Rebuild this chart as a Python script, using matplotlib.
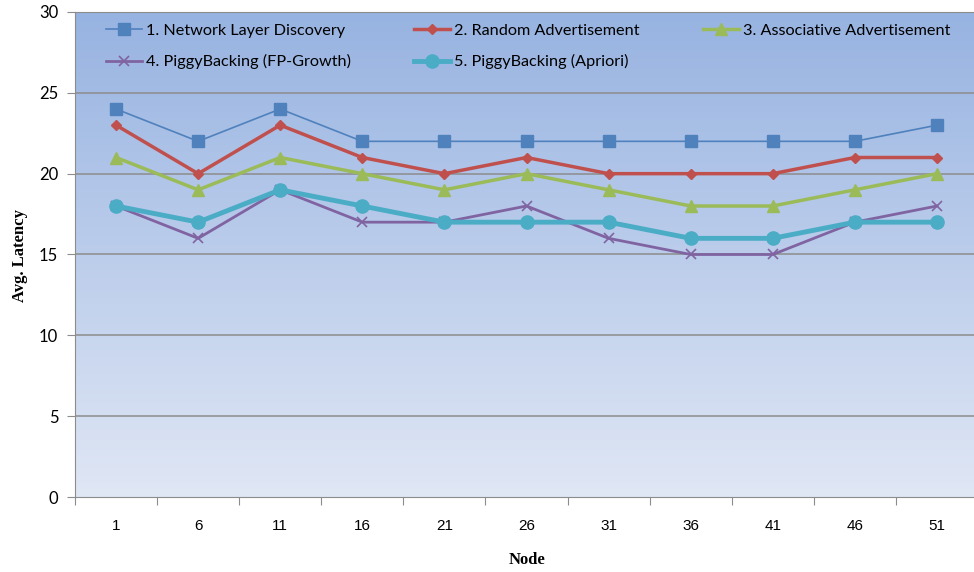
import numpy as np
import matplotlib
matplotlib.use("Agg")
import matplotlib.pyplot as plt
from matplotlib.colors import LinearSegmentedColormap

nodes = ["1", "6", "11", "16", "21", "26", "31", "36", "41", "46", "51"]
s1_network = [24, 22, 24, 22, 22, 22, 22, 22, 22, 22, 23]
s2_random = [23, 20, 23, 21, 20, 21, 20, 20, 20, 21, 21]
s3_assoc = [21, 19, 21, 20, 19, 20, 19, 18, 18, 19, 20]
s4_fpgrowth = [18, 16, 19, 17, 17, 18, 16, 15, 15, 17, 18]
s5_apriori = [18, 17, 19, 18, 17, 17, 17, 16, 16, 17, 17]
labels = ["1. Network Layer Discovery", "2. Random Advertisement",
          "3. Associative Advertisement", "4. PiggyBacking (FP-Growth)",
          "5. PiggyBacking (Apriori)"]

fig = plt.figure(figsize=(9.74, 5.72), dpi=100)
ax = fig.add_axes([75/974, 75/572, (978-75)/974, (497-12)/572])

x = np.arange(len(nodes))

# gradient background
cmap = LinearSegmentedColormap.from_list("bg", ["#e0e7f5", "#97b3e1"])
grad = np.linspace(0, 1, 256).reshape(-1, 1)
ax.imshow(grad, extent=[-0.5, 10.5, 0, 30], origin="lower", aspect="auto",
          cmap=cmap, zorder=0, interpolation="bicubic")

ax.set_xlim(-0.5, 10.5)
ax.set_ylim(0, 30)

for yv in range(5, 31, 5):
    ax.axhline(yv, color="#8c8c8c", lw=1.1, zorder=1)

font_leg = "Lato"
ax.plot(x, s1_network, color="#4F81BD", lw=1.2, marker="s", ms=8, label=labels[0], zorder=3)
ax.plot(x, s2_random, color="#C0504D", lw=2.5, marker="D", ms=5.5, label=labels[1], zorder=3)
ax.plot(x, s3_assoc, color="#9BBB59", lw=2.5, marker="^", ms=8, label=labels[2], zorder=3)
ax.plot(x, s4_fpgrowth, color="#8064A2", lw=2.0, marker="x", ms=7, mew=1.2, label=labels[3], zorder=3)
ax.plot(x, s5_apriori, color="#4BACC6", lw=3.5, marker="o", ms=9.5, label=labels[4], zorder=4)

# ticks
ax.set_xticks(np.arange(-0.5, 11, 1))
ax.set_xticklabels([])
ax.set_xticks(x, minor=True)
ax.set_xticklabels(nodes, minor=True, fontsize=11, family="Liberation Sans")
ax.tick_params(axis="x", which="major", length=6, color="#8c8c8c", direction="out")
ax.tick_params(axis="x", which="minor", length=0, pad=16)
ax.set_yticks(range(0, 31, 5))
ax.tick_params(axis="y", length=6, color="#8c8c8c", labelsize=12, pad=6)
for t in ax.get_yticklabels():
    t.set_family(font_leg)

for sp in ["left", "bottom", "top"]:
    ax.spines[sp].set_color("#8c8c8c")
ax.spines["right"].set_visible(False)

fig.text(527/974, 12/572, "Node", family="Liberation Serif", fontweight="bold",
         fontsize=12, ha="center", va="center")
fig.text(20/974, (572-255)/572, "Avg. Latency", family="Liberation Serif", fontweight="bold",
         fontsize=12, ha="center", va="center", rotation=90)

handles, labs = ax.get_legend_handles_labels()
order = [0, 3, 1, 4, 2]
leg = ax.legend([handles[i] for i in order], [labs[i] for i in order], ncol=3,
                loc="upper left", bbox_to_anchor=(0.018, 1.006), frameon=False,
                prop={"family": font_leg, "size": 11.7}, handlelength=2.2,
                handletextpad=0.25, columnspacing=3.9, labelspacing=1.0)

fig.savefig("out.png", dpi=100)
